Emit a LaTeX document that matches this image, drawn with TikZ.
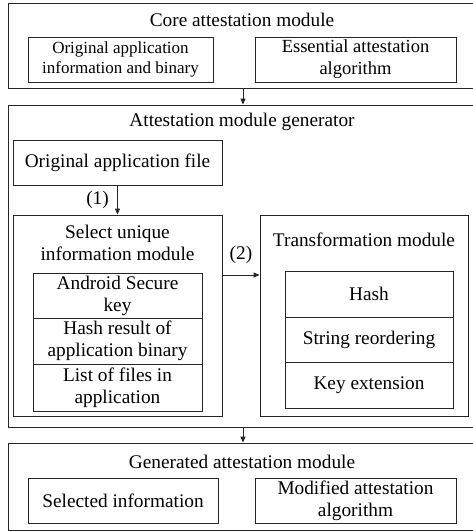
\documentclass[tikz,border=0pt]{standalone}
\usepackage{fontspec}
\setmainfont{Liberation Serif}
\usetikzlibrary{arrows.meta}
\begin{document}
\begin{tikzpicture}[x=1pt,y=-1pt,
  box/.style={draw=black!85, line width=0.9pt, inner sep=0pt},
  txt/.style={font=\fontsize{19.3}{22}\selectfont, align=center, inner sep=0pt},
  arr/.style={draw=black!85, line width=0.9pt, -{Triangle[length=6pt,width=5pt]}}]
\useasboundingbox (0,0) rectangle (473,531);
\clip (0,0) rectangle (473,531);
% Core attestation module
\node[box, minimum width=470pt, minimum height=85pt] (core) at (243,45.5) {};
\node[txt] (coreT) at (242,20) {Core attestation module};
\node[box, txt, font=\fontsize{17}{19.5}\selectfont, minimum width=185pt, minimum height=45pt] (coreL) at (120.5,59.5) {Original application\\information and binary};
\node[box, txt, font=\fontsize{18.5}{22}\selectfont, minimum width=201pt, minimum height=45pt] (coreR) at (355.5,59.5) {Essential attestation\\algorithm};
% Attestation module generator
\node[box, minimum width=470pt, minimum height=322pt] (gen) at (243,266) {};
\node[txt] (genT) at (242,122) {Attestation module generator};
\node[box, txt, minimum width=209pt, minimum height=45pt] (orig) at (117.5,162.5) {Original application file};
\node[box, minimum width=209pt, minimum height=201pt] (sel) at (117.5,315.5) {};
\node[txt] (selT) at (117.5,243) {Select unique\\information module};
\node[box, txt, minimum width=169pt, minimum height=45pt] (c1) at (117.5,295.5) {Android Secure\\key};
\node[box, txt, minimum width=169pt, minimum height=46pt] (c2) at (117.5,341) {Hash result of\\application binary};
\node[box, txt, minimum width=169pt, minimum height=47pt] (c3) at (117.5,387.5) {List of files in\\application};
\node[box, minimum width=208pt, minimum height=201pt] (trans) at (364,315.5) {};
\node[txt] (transT) at (364,240) {Transformation module};
\node[box, txt, minimum width=168pt, minimum height=46pt] (t1) at (369,294) {Hash};
\node[box, txt, minimum width=168pt, minimum height=45pt] (t2) at (369,339.5) {String reordering};
\node[box, txt, minimum width=168pt, minimum height=46pt] (t3) at (369,385) {Key extension};
\coordinate (y2) at (0,275);
\draw[arr] (orig.south) -- (sel.north);
\node[txt, anchor=east] (l1) at (109,200) {(1)};
\draw[arr] (sel.east |- y2) -- (trans.west |- y2);
\node[txt] (l2) at (241,255) {(2)};
% Generated attestation module
\node[box, minimum width=470pt, minimum height=87pt] (out) at (243,486.5) {};
\node[txt] (outT) at (242,462) {Generated attestation module};
\node[box, txt, minimum width=190pt, minimum height=45pt] (outL) at (123,500.5) {Selected information};
\node[box, txt, minimum width=201pt, minimum height=45pt] (outR) at (355.5,500.5) {Modified attestation\\algorithm};
% arrows between modules
\draw[arr] (core.south) -- (gen.north);
\draw[arr] (gen.south) -- (out.north);
\end{tikzpicture}
\end{document}
